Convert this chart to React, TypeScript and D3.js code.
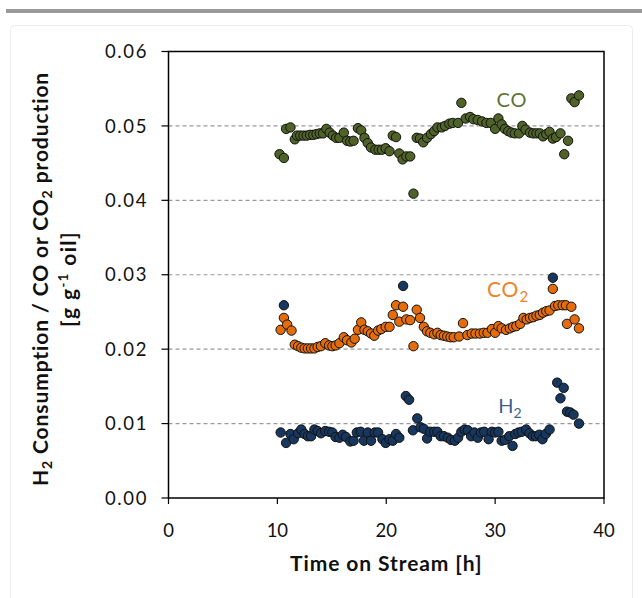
import React from "react";
import * as d3 from "d3";

const coTime = [10.2,10.6,10.8,11.2,11.6,11.8,12.1,12.4,12.7,13.0,13.3,13.6,13.9,14.2,14.5,14.8,15.1,15.4,15.7,16.1,16.4,16.7,17.0,17.4,17.7,18.0,18.3,18.6,19.0,19.3,19.6,19.95,20.3,20.6,20.9,21.2,21.5,21.85,22.2,22.5,22.8,23.1,23.4,23.75,24.1,24.4,24.7,25.1,25.4,25.8,26.1,26.6,26.9,27.3,27.7,28.0,28.4,28.8,29.2,29.6,30.0,30.3,30.6,30.9,31.2,31.5,31.8,32.2,32.5,32.8,33.2,33.5,33.8,34.1,34.4,34.7,35.0,35.3,35.6,36.0,36.35,36.7,37.0,37.3,37.7];
const coValue = [0.0462,0.0457,0.0496,0.0498,0.0482,0.0487,0.0487,0.0487,0.0487,0.0488,0.0488,0.0489,0.049,0.049,0.0496,0.0491,0.0487,0.0484,0.0484,0.0491,0.048,0.0479,0.048,0.0497,0.0494,0.0484,0.0477,0.0471,0.0468,0.0468,0.0468,0.047,0.0466,0.0487,0.0485,0.0463,0.0455,0.0459,0.0459,0.0409,0.0484,0.0483,0.0478,0.0484,0.0489,0.0493,0.0498,0.0498,0.05,0.0503,0.0504,0.0504,0.0531,0.051,0.0512,0.0509,0.0508,0.0506,0.0504,0.0504,0.0496,0.051,0.0502,0.0496,0.0493,0.0491,0.049,0.049,0.05,0.0495,0.0491,0.049,0.049,0.049,0.0486,0.0489,0.0492,0.0483,0.0485,0.049,0.0462,0.048,0.0537,0.0532,0.0541];

const co2Time = [10.3,10.6,10.9,11.3,11.6,11.9,12.2,12.5,12.8,13.1,13.4,13.7,14.0,14.4,14.75,15.05,15.35,15.7,16.1,16.4,16.8,17.1,17.4,17.7,18.0,18.3,18.6,18.9,19.25,19.55,19.95,20.3,20.6,20.9,21.2,21.55,21.85,22.2,22.5,22.8,23.1,23.45,23.75,24.05,24.4,24.7,25.0,25.3,25.6,25.9,26.2,26.7,27.05,27.45,27.85,28.2,28.6,28.95,29.3,29.7,30.0,30.3,30.6,31.0,31.35,31.65,31.95,32.3,32.6,32.9,33.2,33.5,33.8,34.1,34.4,34.7,35.0,35.3,35.5,35.8,36.2,36.5,36.6,37.0,37.3,37.7];
const co2Value = [0.0226,0.0242,0.0233,0.0225,0.0206,0.0204,0.0202,0.0201,0.0201,0.0201,0.0201,0.0203,0.0204,0.0208,0.0205,0.0204,0.0205,0.0208,0.0216,0.0212,0.0209,0.0214,0.0226,0.0236,0.0226,0.0224,0.0221,0.0218,0.0225,0.0227,0.023,0.023,0.0246,0.0259,0.0237,0.0257,0.024,0.0239,0.0204,0.0253,0.0242,0.023,0.0224,0.0222,0.022,0.0222,0.0219,0.0218,0.0217,0.0216,0.0216,0.0217,0.0235,0.0219,0.0221,0.0221,0.0221,0.0222,0.0222,0.0227,0.0222,0.0231,0.0228,0.0226,0.0228,0.023,0.0231,0.0234,0.0242,0.024,0.0242,0.0243,0.0245,0.0246,0.0249,0.0251,0.0252,0.0281,0.0258,0.0259,0.0259,0.0259,0.0234,0.0257,0.024,0.0228];

const h2Time = [10.3,10.6,10.8,11.2,11.5,11.9,12.2,12.5,12.8,13.1,13.4,13.7,14.0,14.4,14.75,15.05,15.35,15.7,16.0,16.3,16.7,17.0,17.3,17.65,17.95,18.3,18.6,18.95,19.25,19.65,19.95,20.3,20.6,20.9,21.2,21.55,21.8,22.1,22.45,22.85,23.15,23.45,23.75,24.05,24.4,24.7,25.0,25.3,25.65,25.95,26.3,26.6,26.9,27.2,27.5,27.8,28.1,28.4,28.7,29.0,29.4,29.7,30.0,30.3,30.6,30.9,31.3,31.6,31.85,32.15,32.45,32.85,33.15,33.45,33.75,34.05,34.35,34.65,35.0,35.3,35.7,36.0,36.3,36.6,36.9,37.2,37.7];
const h2Value = [0.0088,0.0259,0.0074,0.0086,0.0079,0.0087,0.0092,0.0086,0.0083,0.0083,0.0092,0.009,0.0087,0.009,0.0089,0.0088,0.0082,0.0081,0.0085,0.0082,0.0076,0.0077,0.0088,0.0089,0.0077,0.0088,0.0077,0.0088,0.0088,0.0079,0.0074,0.0079,0.0077,0.0086,0.0081,0.0285,0.0137,0.0132,0.0091,0.0107,0.0095,0.0093,0.008,0.0089,0.0089,0.0089,0.0083,0.0083,0.0081,0.0078,0.0077,0.0081,0.0089,0.0092,0.0091,0.0083,0.0088,0.0081,0.0088,0.0089,0.0079,0.0089,0.0088,0.0089,0.0077,0.0078,0.0083,0.007,0.0086,0.0088,0.0089,0.0092,0.0087,0.0083,0.0083,0.0085,0.0079,0.0086,0.0092,0.0296,0.0155,0.0134,0.0148,0.0116,0.0115,0.0112,0.01];

const xTicks = [0, 10, 20, 30, 40];
const yTicks = [0, 0.01, 0.02, 0.03, 0.04, 0.05, 0.06];
const gridValues = [0.01, 0.02, 0.03, 0.04, 0.05];

const FONT = "Lato, 'Open Sans', sans-serif";

export default function App() {
  const x = d3.scaleLinear().domain([0, 40]).range([168.5, 604]);
  const y = d3.scaleLinear().domain([0, 0.06]).range([498, 51.5]);

  const series = [
    { name: "CO", t: coTime, v: coValue, fill: "#4F6228" },
    { name: "CO2", t: co2Time, v: co2Value, fill: "#E46C0A" },
    { name: "H2", t: h2Time, v: h2Value, fill: "#17375E" },
  ];

  const x0 = x(0), x1 = x(40), y0 = y(0), y1 = y(0.06);

  return (
    <svg width={642} height={598} style={{ position: "absolute", left: 0, top: 0 }} fontFamily={FONT}>
      <rect x={0} y={0} width={642} height={598} fill="#fff" />
      <rect x={6} y={9} width={636} height={4} fill="#9a9a9a" />
      <rect x={10.5} y={25.5} width={622} height={600} rx={4} fill="#fff" stroke="#ececec" />

      {gridValues.map((g) => (
        <line key={g} x1={x0} x2={x1} y1={y(g)} y2={y(g)} stroke="#9a9a9a" strokeWidth={1.2} strokeDasharray="4,3" />
      ))}

      <rect x={x0} y={y1} width={x1 - x0} height={y0 - y1} fill="none" stroke="#000" strokeWidth={1.5} />

      {yTicks.map((t) => (
        <g key={t}>
          <line x1={x0 - 7} x2={x0} y1={y(t)} y2={y(t)} stroke="#000" strokeWidth={1.2} />
          <text x={148} y={y(t)} dy="0.36em" textAnchor="end" fontSize={18.5} letterSpacing={1.6} fill="#111">
            {d3.format(".2f")(t)}
          </text>
        </g>
      ))}
      {xTicks.map((t) => (
        <g key={t}>
          <line x1={x(t)} x2={x(t)} y1={y0} y2={y0 + 6} stroke="#000" strokeWidth={1.2} />
          <text x={x(t)} y={537} textAnchor="middle" fontSize={18.5} fill="#111">
            {t}
          </text>
        </g>
      ))}

      <text x={(x0 + x1) / 2} y={571} textAnchor="middle" fontSize={21} letterSpacing={0.9} fontWeight="bold" fill="#111">
        Time on Stream [h]
      </text>

      <g transform="translate(48,279) rotate(-90)">
        <text x={0} y={0} textAnchor="middle" fontSize={21} letterSpacing={0.9} fontWeight="bold" fill="#111">
          H<tspan fontSize={14} dy={4}>2</tspan>
          <tspan dy={-4}> Consumption / CO or CO</tspan>
          <tspan fontSize={14} dy={4}>2</tspan>
          <tspan dy={-4}> production</tspan>
        </text>
      </g>
      <g transform="translate(76,279) rotate(-90)">
        <text x={0} y={0} textAnchor="middle" fontSize={21} letterSpacing={1.4} fontWeight="bold" fill="#111">
          [g g<tspan fontSize={13} dy={-8}>-1</tspan>
          <tspan dy={8}> oil]</tspan>
        </text>
      </g>

      {series.map((s) => (
        <g key={s.name}>
          {s.t.map((t, i) => (
            <circle key={i} cx={x(t)} cy={y(s.v[i])} r={4.7} fill={s.fill} stroke="#111" strokeWidth={1} />
          ))}
        </g>
      ))}

      <text x={512} y={107} textAnchor="middle" fontSize={20} letterSpacing={1} fill="#5E7434">CO</text>
      <text x={508} y={297} textAnchor="middle" fontSize={21} letterSpacing={1} fill="#EE8427">
        CO<tspan fontSize={15} dy={5}>2</tspan>
      </text>
      <text x={510} y={413} textAnchor="middle" fontSize={20} fill="#3F5F8C">
        H<tspan fontSize={14} dy={5}>2</tspan>
      </text>
    </svg>
  );
}
